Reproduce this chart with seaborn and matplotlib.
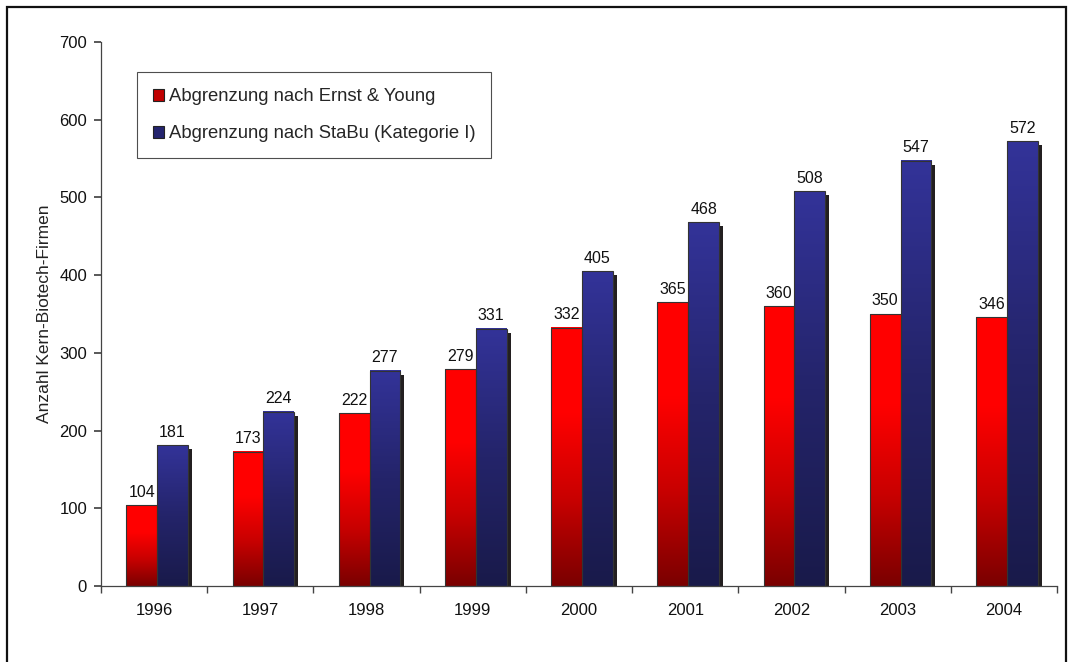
import matplotlib.pyplot as plt
import matplotlib.transforms as mtransforms
from matplotlib.patches import Rectangle, Patch
from matplotlib.colors import LinearSegmentedColormap
import seaborn as sns
import numpy as np
import pandas as pd

# Anzahl Kern-Biotech-Firmen nach zwei Abgrenzungen
years = ['1996', '1997', '1998', '1999', '2000', '2001', '2002', '2003', '2004']
ernst_young = [104, 173, 222, 279, 332, 365, 360, 350, 346]
stabu = [181, 224, 277, 331, 405, 468, 508, 547, 572]
series_names = ['Abgrenzung nach Ernst & Young', 'Abgrenzung nach StaBu (Kategorie I)']

df = pd.DataFrame({
    'Jahr': years * 2,
    'Anzahl': ernst_young + stabu,
    'Abgrenzung': [series_names[0]] * len(years) + [series_names[1]] * len(years),
})

sns.set_theme(style="white")
plt.rcParams['font.family'] = ['Liberation Sans', 'DejaVu Sans']

fig = plt.figure(figsize=(10.7, 6.62), dpi=100)
ax = fig.add_axes([101 / 1070, 76 / 662, 956 / 1070, 544 / 662])

ax = sns.barplot(data=df, x='Jahr', y='Anzahl', hue='Abgrenzung', hue_order=series_names,
                 palette=['#ff0000', '#333399'], width=0.58, gap=0, saturation=1,
                 edgecolor='#333333', linewidth=0.8, legend=False, ax=ax, zorder=3)

# gradients: bright on top, dark at the bottom
cmaps = {
    series_names[0]: LinearSegmentedColormap.from_list('r', ['#7a0000', '#c80000', '#ff0000', '#ff0000']),
    series_names[1]: LinearSegmentedColormap.from_list('b', ['#191a4a', '#24246a', '#333399']),
}
shadow_tr = mtransforms.offset_copy(ax.transData, fig=fig, x=4, y=-4, units='dots')
n = len(years)
for i, bar in enumerate(ax.patches[:2 * n]):
    name = series_names[i // n]
    bar.set_x(bar.get_x() + 0.028)  # excel-style pair sits a bit right of centre
    x, w, h = bar.get_x(), bar.get_width(), bar.get_height()
    grad = np.linspace(0, 1, 256).reshape(-1, 1)
    ax.imshow(grad, extent=[x, x + w, 0, h], origin='lower', aspect='auto',
              cmap=cmaps[name], zorder=2.5, interpolation='bicubic')
    bar.set_facecolor('none')
    ax.add_patch(Rectangle((x, 0), w, h, transform=shadow_tr,
                           facecolor='#231f20', edgecolor='none', zorder=2))
    ax.annotate(f"{int(h)}", (x + w / 2, h), textcoords='offset points', xytext=(0, 4),
                ha='center', va='bottom', fontsize=11.5, color='#111111')

ax.set_xlim(-0.5, n - 0.5)
ax.set_ylim(0, 700)
ax.set_yticks(range(0, 701, 100))
ax.set_xlabel('')
ax.set_ylabel('Anzahl Kern-Biotech-Firmen', fontsize=12.5, color='#222222', labelpad=5)

for side in ['top', 'right']:
    ax.spines[side].set_visible(False)
for side in ['left', 'bottom']:
    ax.spines[side].set_color('#444444')
    ax.spines[side].set_linewidth(0.9)

ax.set_xticks(np.arange(-0.5, n, 1), minor=True)
ax.tick_params(axis='x', which='major', length=0, labelsize=12, pad=12, colors='#111111')
ax.tick_params(axis='x', which='minor', length=5, direction='out', color='#444444', bottom=True)
ax.tick_params(axis='y', length=5, direction='out', color='#444444', labelsize=12,
               colors='#111111', left=True, pad=5)

handles = [Patch(facecolor='#c00000', edgecolor='#222222', linewidth=0.8),
           Patch(facecolor='#24246e', edgecolor='#222222', linewidth=0.8)]
leg = ax.legend(handles, series_names, loc='upper left', bbox_to_anchor=(0.038, 0.944),
                fontsize=13.3, frameon=True, fancybox=False, handlelength=0.6,
                handleheight=0.6, handletextpad=0.25, labelspacing=1.1,
                borderpad=0.85, borderaxespad=0)
leg.get_frame().set_edgecolor('#222222')
leg.get_frame().set_linewidth(0.8)

fig.patches.append(Rectangle((7 / 1070, -0.1), 1059 / 1070, 1.1 - 7 / 662, transform=fig.transFigure,
                             fill=False, edgecolor='#111111', linewidth=1.6))

fig.savefig('out.png', dpi=100)
